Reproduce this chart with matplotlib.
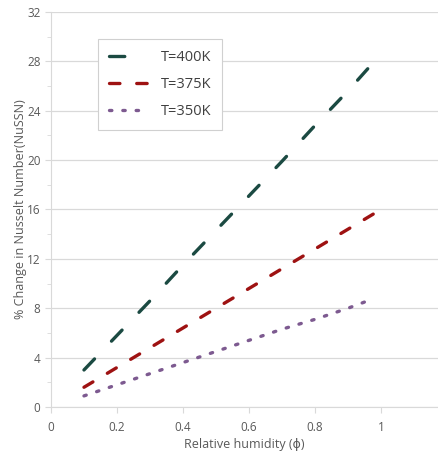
import matplotlib
matplotlib.use("Agg")
import matplotlib.pyplot as plt

plt.rcParams["font.family"] = ["Open Sans", "DejaVu Sans"]
plt.rcParams["lines.scale_dashes"] = False

# 相對濕度與各溫度下 Nusselt 數變化百分比
PHI_400 = [0.1, 0.2, 0.3, 0.4, 0.5, 0.6, 0.7, 0.8, 0.9, 0.96]
PHI_375 = [0.1, 0.2, 0.3, 0.4, 0.5, 0.6, 0.7, 0.8, 0.9, 1.0]
PHI_350 = [0.1, 0.2, 0.3, 0.4, 0.5, 0.6, 0.7, 0.8, 0.9, 0.98]
NU_400 = [3.0, 5.8, 8.6, 11.5, 14.3, 17.1, 19.9, 22.8, 25.6, 27.4]
NU_375 = [1.6, 3.2, 4.8, 6.4, 8.0, 9.6, 11.2, 12.8, 14.4, 16.0]
NU_350 = [0.9, 1.8, 2.7, 3.6, 4.5, 5.4, 6.3, 7.1, 8.0, 8.8]
LABELS = ["T=400K", "T=375K", "T=350K"]
X_TICKS = [0, 0.2, 0.4, 0.6, 0.8, 1]
X_TICK_LABELS = ["0", "0.2", "0.4", "0.6", "0.8", "1"]
Y_TICKS = [0, 4, 8, 12, 16, 20, 24, 28, 32]
Y_MINOR = [2, 6, 10, 14, 18, 22, 26, 30]

fig = plt.figure(figsize=(4.38, 4.54), dpi=100)
ax = fig.add_axes([0.1164, 0.1035, 0.8836, 0.8701])

ax.plot(PHI_400, NU_400, color="#1B4A42", lw=2.4,
        linestyle=(0, (11, 17.7)), dash_capstyle="round", label=LABELS[0])
ax.plot(PHI_375, NU_375, color="#9E1212", lw=2.4,
        linestyle=(0, (7.5, 12.1)), dash_capstyle="round", label=LABELS[1])
ax.plot(PHI_350, NU_350, color="#7D5A90", lw=2.4,
        linestyle=(0, (1.7, 7.9)), dash_capstyle="round", label=LABELS[2])

ax.set_xlim(0, 1.173)
ax.set_ylim(0, 32)
ax.set_xticks(X_TICKS)
ax.set_xticklabels(X_TICK_LABELS)
ax.set_yticks(Y_TICKS)
ax.set_yticks(Y_MINOR, minor=True)
ax.tick_params(axis="both", colors="#D9D9D9", labelcolor="#595959",
               labelsize=8.5, length=4)
ax.tick_params(axis="y", which="minor", colors="#D9D9D9", length=3)
ax.tick_params(axis="x", pad=6)
ax.grid(True, axis="y", color="#D9D9D9", lw=0.9)
ax.set_axisbelow(True)
for side in ("top", "right"):
    ax.spines[side].set_visible(False)
for side in ("left", "bottom"):
    ax.spines[side].set_color("#D9D9D9")

ax.set_xlabel("Relative humidity (ϕ)", fontsize=9, color="#595959",
              labelpad=3)
ax.set_ylabel("% Change in Nusselt Number(NuSSN)", fontsize=9,
              color="#595959", labelpad=0)

leg = ax.legend(loc="upper left", bbox_to_anchor=(0.121, 0.932),
                fontsize=10.5, handlelength=2.7, handletextpad=0.85,
                borderpad=0.75, labelspacing=0.82, fancybox=False,
                framealpha=1, edgecolor="#D0D0D0", borderaxespad=0)
leg.get_frame().set_linewidth(0.8)
for t in leg.get_texts():
    t.set_color("#404040")

fig.savefig("out.png", dpi=100)
